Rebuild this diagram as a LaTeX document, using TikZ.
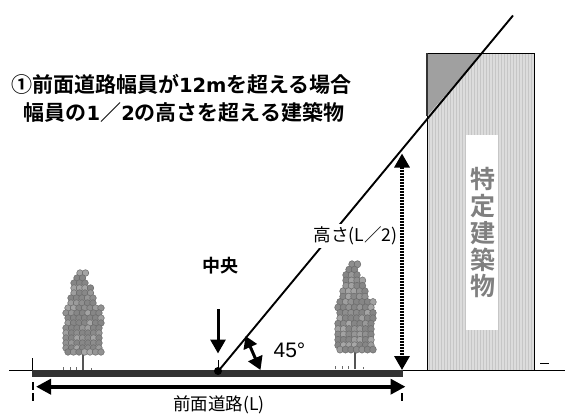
\documentclass[tikz,border=0pt]{standalone}
\usepackage{fontspec}
\setmainfont{Noto Sans CJK JP}[BoldFont={Noto Sans CJK JP Bold}]
\newfontfamily\latfont{DejaVu Sans}
\newfontfamily\arialfont{Liberation Sans}
\usetikzlibrary{arrows.meta}
\newcommand{\fs}[1]{\fontsize{#1}{#1}\selectfont}
\newcommand{\wlat}[1]{{\latfont\fontsize{19.5}{19.5}\selectfont\bfseries #1}}
\definecolor{stripeA}{HTML}{DCDCDC}
\definecolor{stripeB}{HTML}{C6C6C6}
\definecolor{roof}{HTML}{A0A0A0}
\definecolor{road}{HTML}{333333}
\definecolor{treefill}{HTML}{868686}
\definecolor{treeedge}{HTML}{6A6A6A}
\definecolor{signtext}{HTML}{808080}
\tikzset{
  conn/.style={line width=1.9pt,black},
  bigarrow/.style={line width=3pt,black,-{Triangle[length=14pt,width=15pt]}},
  bothangle/.style={line width=3pt,black,{Triangle[length=12pt,width=14pt]}-{Triangle[length=13pt,width=15pt]}},
  dimline/.style={line width=3.6pt,black,{Triangle[length=15pt,width=15pt]}-{Triangle[length=15pt,width=15pt]}},
  heightline/.style={line width=3.2pt,black,dash pattern=on 2pt off 1pt,{Triangle[length=14pt,width=15pt]}-{Triangle[length=14pt,width=15pt]}},
  tickdash/.style={line width=2pt,black,dash pattern=on 8pt off 3pt},
  thin line/.style={line width=1pt,black},
  title/.style={font=\bfseries\fs{21},inner sep=0pt,anchor=center},
  sign/.style={font=\bfseries\fs{25},text=signtext,inner sep=0pt,anchor=center},
}
\newcommand{\treeshape}{%
  \draw[line width=2.6pt,treeedge!80!black] (0,0) -- (0,-16);
  \draw[treeedge,line width=0.5pt] (-20,0) -- (-20,-3) (-13,0) -- (-13,-3) (-7,0) -- (-7,-3) (8,0) -- (8,-2);
  \foreach \yy/\xa/\xb in {
     -97/-3/-3,-92/-6/0,-87/-9/3,-82/-9/9,-77/-9/9,-72/-12/12,-67/-12/15,
     -62/-15/18,-57/-17/21,-52/-15/18,-47/-15/18,-42/-17/21,-37/-17/21,-32/-17/21,-27/-17/21,-22/-17/21,-18/-15/18}{
    \pgfmathsetmacro{\xc}{\xa+5.5}
    \foreach \xx in {\xa,\xc,...,\xb}{
      \pgfmathsetmacro{\rr}{random(72,115)}
      \pgfmathsetmacro{\cc}{min(\rr,100)}
      \fill[fill=treefill!\cc!white,draw=treeedge,line width=0.5pt] (\xx,\yy) circle (3.3);
    }
  }
}
\begin{document}
\begin{tikzpicture}[x=1pt,y=-1pt]
\pgfmathsetseed{7}
\useasboundingbox (0,0) rectangle (565,413);
\fill[white] (0,0) rectangle (565,413);

% building
\fill[stripeA] (427,53) rectangle (534.5,370);
\foreach \xx in {429,432,...,534}{
  \draw[stripeB,line width=1pt] (\xx,53) -- (\xx,370);
}
\coordinate (bTL) at (427,53);
\coordinate (bTR) at (534.5,53);
\coordinate (bBL) at (427,370);
\coordinate (bBR) at (534.5,370);
\fill[white] (466,135) rectangle (498,329.5);
\fill[roof] (bTL) -- (482,53) -- (427,116) -- cycle;
\draw[line width=0.9pt,black] (bBL) -- (bTL) -- (bTR) -- (bBR);
\draw[line width=1.2pt,black!80] (bTL) -- (427,116);

\node[sign] (s1) at (482.5,179) {特};
\node[sign] (s2) at (482.5,206) {定};
\node[sign] (s3) at (482.5,233) {建};
\node[sign] (s4) at (482.5,259.5) {築};
\node[sign] (s5) at (482.5,286) {物};

% trees
\begin{scope}[shift={(83,370)}]\treeshape\end{scope}
\begin{scope}[shift={(355,369)},yscale=1.08]\treeshape\end{scope}

% ground and road
\coordinate (gL) at (9,370.3);
\coordinate (gR) at (565,370.3);
\coordinate (rL) at (32,373.3);
\coordinate (rR) at (403,373.3);
\coordinate (mid) at (218,370);
\draw[thin line] (gL) -- (gR);
\draw[road,line width=6.4pt] (rL) -- (rR);
\fill[black] (mid) ++(0,1) circle (4);
\draw[line width=0.7pt,black] (32,358) -- (32,370);
\draw[line width=0.7pt,black] (218,360) -- (218,370);
\draw[line width=1pt,black] (540,363.5) -- (549,363.5);

% diagonal
\coordinate (dTop) at (513,15.5);
\coordinate (dBot) at (220,369);
\draw[conn] (dBot) -- (dTop);

% arrows
\coordinate (cTop) at (218,309);
\coordinate (cTip) at (218,353.5);
\draw[bigarrow] (cTop) -- (cTip);
\coordinate (aA) at (245.5,336);
\coordinate (aB) at (260.5,370);
\draw[bothangle] (aA) -- (aB);

% texts
\node[title] (t1) at (181.5,84) {①前面道路幅員が\wlat{12m}を超える場合};
\node[title] (t2) at (184,112) {幅員の\wlat{1}／\wlat{2}の高さを超える建築物};
\node[font=\bfseries\fs{18},inner sep=0pt] (c) at (220,266) {中央};
\node[font=\arialfont\fs{21},inner sep=0pt] (a45) at (289.5,350) {45°};
\node[font=\fs{17.6},inner sep=0pt,minimum height=24pt,fill=white] (hl) at (355.5,236) {高さ(L／2)};
\node[font=\fs{17.5},inner sep=0pt] (wl) at (219,404.5) {前面道路(L)};

\coordinate (hT) at (402,153.5);
\coordinate (hB) at (402,370);
\draw[heightline] (hT) -- (hB);
\coordinate (dL) at (36,386.7);
\coordinate (dR) at (405.5,386.7);
\draw[dimline] (dL) -- (dR);
\coordinate (tL1) at (32.5,382);
\coordinate (tL2) at (32.5,401);
\coordinate (tR1) at (402,393);
\coordinate (tR2) at (402,401);
\draw[tickdash] (tL1) -- (tL2);
\draw[line width=2pt,black] (tR1) -- (tR2);
\end{tikzpicture}
\end{document}
